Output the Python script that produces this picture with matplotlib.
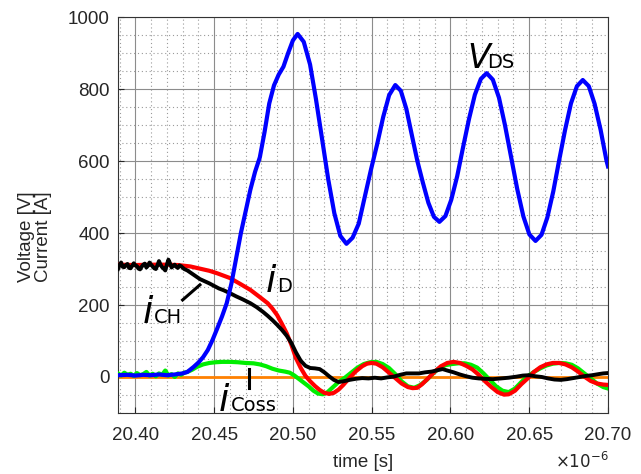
import matplotlib
matplotlib.use("Agg")
import matplotlib.pyplot as plt
from matplotlib.ticker import MultipleLocator, FormatStrFormatter

# time axis in units of 1e-6 s
t_vds = [20.389, 20.395, 20.400, 20.405, 20.410, 20.415, 20.420, 20.425, 20.430, 20.433,
         20.437, 20.440, 20.443, 20.446, 20.449, 20.452, 20.455, 20.458, 20.461, 20.464,
         20.467, 20.470, 20.473, 20.476, 20.479, 20.482, 20.485, 20.488, 20.491, 20.494,
         20.497, 20.500, 20.503, 20.5069, 20.5109, 20.5146, 20.5185, 20.5224, 20.5263, 20.5301,
         20.534, 20.5379, 20.5418, 20.5456, 20.5495, 20.5534, 20.5573, 20.5611, 20.565, 20.5685,
         20.572, 20.5755, 20.579, 20.5825, 20.586, 20.5895, 20.593, 20.5968, 20.6005, 20.6043,
         20.608, 20.6118, 20.6155, 20.6193, 20.623, 20.6269, 20.6308, 20.6346, 20.6385, 20.6424,
         20.6463, 20.6501, 20.654, 20.6578, 20.6615, 20.6653, 20.669, 20.6728, 20.6765, 20.6803,
         20.684, 20.6878, 20.6915, 20.6953, 20.699, 20.700]
v_ds = [5, 6, 4, 6, 5, 7, 5, 7, 10, 14,
        28, 40, 55, 75, 103, 135, 168, 205, 260, 330,
        400, 460, 520, 570, 610, 680, 760, 810, 840, 862,
        900, 935, 953, 931, 868, 773, 662, 550, 455, 392,
        370, 387, 426, 500, 575, 645, 722, 783, 811, 795,
        745, 672, 600, 540, 484, 445, 431, 447, 492, 558,
        638, 717, 784, 828, 844, 826, 776, 700, 611, 522,
        446, 396, 378, 395, 443, 516, 602, 687, 760, 808,
        825, 808, 759, 687, 602, 585]

t_d = [20.389, 20.400, 20.410, 20.420, 20.427, 20.435, 20.440, 20.447, 20.452, 20.460,
       20.466, 20.473, 20.479, 20.484, 20.487, 20.490, 20.493, 20.496, 20.499, 20.502,
       20.505, 20.508, 20.511, 20.514, 20.517, 20.520, 20.523, 20.526, 20.529, 20.532,
       20.536, 20.540, 20.544, 20.547, 20.550, 20.553, 20.557, 20.561, 20.565, 20.569,
       20.573, 20.576, 20.579, 20.582, 20.586, 20.590, 20.594, 20.598, 20.602, 20.606,
       20.610, 20.614, 20.618, 20.622, 20.626, 20.630, 20.634, 20.637, 20.641, 20.645,
       20.649, 20.653, 20.657, 20.661, 20.665, 20.669, 20.673, 20.677, 20.681, 20.685,
       20.689, 20.693, 20.697, 20.700]
i_d = [312, 311, 312, 312, 311, 307, 302, 295, 288, 275,
       260, 242, 222, 205, 190, 172, 148, 122, 90, 52,
       25, 3, -12, -25, -36, -44, -47, -44, -35, -22,
       -2, 16, 30, 37, 39, 37, 27, 12, -3, -18,
       -28, -31, -30, -20, -3, 15, 30, 39, 42, 39,
       31, 21, 6, -12, -28, -42, -49, -48, -38, -20,
       -4, 14, 27, 35, 39, 39, 35, 27, 15, 1,
       -11, -18, -21, -22]

t_coss = [20.389, 20.391, 20.393, 20.395, 20.397, 20.399, 20.401, 20.403, 20.405, 20.407,
          20.409, 20.411, 20.413, 20.415, 20.417, 20.419, 20.421, 20.423, 20.425, 20.427,
          20.429, 20.431, 20.433, 20.436, 20.439, 20.443, 20.447, 20.451, 20.455, 20.460,
          20.465, 20.470, 20.475, 20.479, 20.483, 20.487, 20.491, 20.495, 20.498, 20.501,
          20.504, 20.507, 20.510, 20.513, 20.516, 20.519, 20.522, 20.525, 20.529, 20.533,
          20.537, 20.541, 20.545, 20.549, 20.553, 20.557, 20.561, 20.565, 20.569, 20.573,
          20.577, 20.581, 20.585, 20.589, 20.593, 20.597, 20.601, 20.605, 20.609, 20.613,
          20.617, 20.621, 20.625, 20.629, 20.633, 20.637, 20.641, 20.645, 20.649, 20.653,
          20.657, 20.661, 20.665, 20.669, 20.673, 20.677, 20.681, 20.685, 20.689, 20.693,
          20.697, 20.700]
i_coss = [10, 4, 12, 6, 9, 3, 11, 5, 8, 14,
          4, 9, 2, 10, 6, 18, 4, 8, 0, 10,
          6, 12, 14, 20, 28, 35, 39, 41, 42, 42,
          41, 39, 38, 35, 30, 23, 18, 15, 12, 4,
          -6, -16, -26, -38, -46, -48, -42, -30, -14, -2,
          12, 26, 36, 41, 42, 36, 25, 8, -12, -26,
          -30, -22, -8, 10, 25, 33, 36, 38, 38, 34,
          26, 10, -8, -26, -38, -42, -32, -14, 2, 14,
          24, 32, 37, 39, 38, 34, 24, 10, -4, -18,
          -28, -32]

t_ch = [20.389, 20.390, 20.391, 20.392, 20.393, 20.394, 20.395, 20.396, 20.397, 20.398,
        20.399, 20.400, 20.401, 20.402, 20.403, 20.404, 20.405, 20.406, 20.407, 20.408,
        20.409, 20.410, 20.411, 20.412, 20.413, 20.414, 20.415, 20.416, 20.417, 20.418,
        20.419, 20.420, 20.421, 20.422, 20.423, 20.424, 20.425, 20.426, 20.427, 20.428,
        20.429, 20.431, 20.433, 20.435, 20.438, 20.441, 20.444, 20.447, 20.450, 20.453,
        20.456, 20.460, 20.464, 20.468, 20.473, 20.477, 20.481, 20.484, 20.487, 20.490,
        20.493, 20.496, 20.499, 20.502, 20.505, 20.508, 20.511, 20.514, 20.517, 20.520,
        20.523, 20.526, 20.529, 20.532, 20.536, 20.540, 20.544, 20.548, 20.552, 20.556,
        20.560, 20.564, 20.568, 20.572, 20.576, 20.580, 20.584, 20.588, 20.592, 20.595,
        20.598, 20.602, 20.606, 20.610, 20.614, 20.618, 20.622, 20.627, 20.632, 20.637,
        20.642, 20.646, 20.650, 20.654, 20.658, 20.662, 20.666, 20.670, 20.674, 20.678,
        20.682, 20.686, 20.690, 20.694, 20.697, 20.700]
i_ch = [300, 312, 318, 306, 305, 311, 314, 303, 302, 309,
        316, 310, 308, 301, 299, 306, 312, 315, 304, 309,
        318, 312, 307, 302, 300, 310, 322, 312, 305, 301,
        296, 312, 326, 316, 304, 309, 312, 306, 303, 310,
        308, 300, 296, 290, 281, 272, 266, 260, 253, 246,
        241, 233, 224, 216, 205, 194, 181, 170, 158, 145,
        131, 115, 95, 68, 45, 31, 25, 24, 22, 13,
        2, -8, -14, -12, -8, -5, -3, -4, -2, -4,
        -1, 1, 6, 10, 10, 10, 13, 15, 19, 22,
        18, 13, 7, 2, -2, -4, -5, -6, -4, -2,
        1, 4, 5, 2, 0, -4, -7, -8, -6, -3,
        0, 3, 5, 8, 10, 11]

t_zero = [20.389, 20.700]
i_zero = [0, 0]

plt.rcParams['font.family'] = ['Liberation Sans', 'DejaVu Sans']

fig = plt.figure(figsize=(6.41, 4.74), dpi=100)
ax = fig.add_axes([0.1841, 0.1287, 0.7644, 0.8354])

ax.plot(t_zero, i_zero, color='#ff8000', lw=2.0, zorder=2)
ax.plot(t_coss, i_coss, color='#00ee00', lw=3.0, zorder=3)
ax.plot(t_d, i_d, color='#ff0000', lw=3.0, zorder=4)
ax.plot(t_ch, i_ch, color='#000000', lw=2.8, zorder=5)
ax.plot(t_vds, v_ds, color='#0000ff', lw=3.0, zorder=6)

ax.set_xlim(20.389, 20.700)
ax.set_ylim(-100, 1000)
ax.xaxis.set_major_locator(MultipleLocator(0.05))
ax.xaxis.set_minor_locator(MultipleLocator(0.01))
ax.xaxis.set_major_formatter(FormatStrFormatter('%.2f'))
ax.yaxis.set_major_locator(MultipleLocator(200))
ax.yaxis.set_minor_locator(MultipleLocator(50))

ax.set_axisbelow(True)
ax.grid(which='major', color='#8c8c8c', lw=0.8, ls='-')
ax.grid(which='minor', color='#9a9a9a', lw=0.8, ls=(0, (1, 2.5)))
ax.tick_params(which='both', direction='in', labelsize=13.5, colors='#262626')
ax.tick_params(which='major', length=4, pad=10)
ax.tick_params(axis='y', which='major', pad=6)
ax.tick_params(which='minor', length=0)
for s in ax.spines.values():
    s.set_color('#333333')
    s.set_linewidth(0.8)

ax.set_ylabel('Voltage [V]\nCurrent [A]', fontsize=13.5, color='#262626', linespacing=1.0)
ax.yaxis.set_label_coords(-0.135, 0.445)
ax.set_xlabel('time [s]', fontsize=13.5, color='#262626', labelpad=7)
fig.text(609 / 641, 2 / 474, r'$\times10^{-6}$', fontsize=12, color='#262626',
         ha='right', va='bottom', family='DejaVu Sans')

# curve labels
big = dict(fontsize=27, style='italic', family='DejaVu Sans', va='baseline', zorder=7)
sub = dict(fontsize=14, family='DejaVu Sans', va='baseline', zorder=7)
ax.text(20.6105, 858, 'V', **dict(big, fontsize=24))
ax.text(20.6235, 858, 'DS', **sub)
ax.text(20.4827, 236, 'i', **big)
ax.text(20.4903, 236, 'D', **sub)
ax.text(20.4049, 150, 'i', **big)
ax.text(20.4118, 150, 'CH', **sub)
ax.text(20.4530, -94, 'i', **big)
ax.text(20.4606, -94, 'Coss', **sub)
ax.plot([20.430, 20.441], [214, 256], color='black', lw=2.2, zorder=7)
ax.plot([20.472, 20.472], [22, -31], color='black', lw=2.2, zorder=7)

fig.savefig('out.png', dpi=100)
